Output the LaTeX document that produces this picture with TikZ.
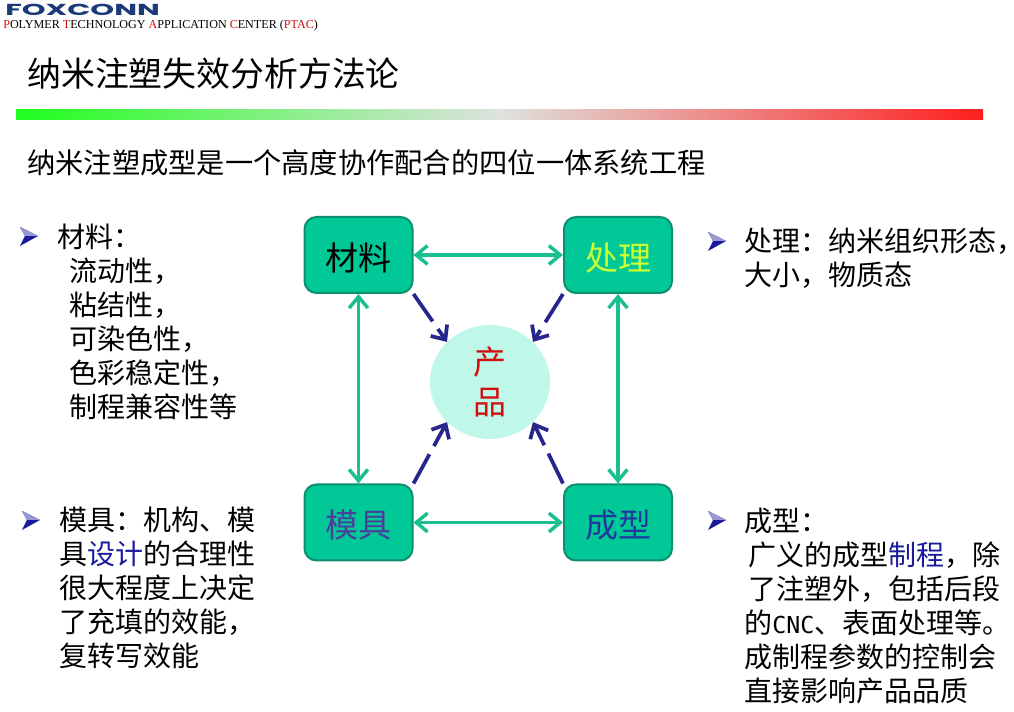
\documentclass[tikz,border=0pt]{standalone}
\usepackage{fontspec}
\usepackage{graphicx}
\usetikzlibrary{arrows.meta,shapes.geometric}
\setmainfont{Noto Sans CJK SC}
\newfontfamily\latinserif{Liberation Serif}
\newfontfamily\logofont{Poppins}
\newfontfamily\cncfont{DejaVu Sans Mono}
\definecolor{boxfill}{HTML}{00C896}
\definecolor{boxline}{HTML}{0E8F70}
\definecolor{greenarrow}{HTML}{1ABF90}
\definecolor{bluearrow}{HTML}{26268C}
\definecolor{circfill}{HTML}{BFF7E8}
\definecolor{navy}{HTML}{1A1A9C}
\definecolor{logoblue}{HTML}{1B3B78}
\definecolor{redtext}{HTML}{D01010}
\newcommand{\bodyfont}{\fontsize{21}{25.4}\selectfont}
\newcommand{\boxfont}{\fontsize{24.75}{30}\selectfont}
\newcommand{\boxlabel}[1]{\raisebox{0pt}[23.2pt][0pt]{#1}}
\tikzset{
  x=0.75pt,y=-0.75pt,
  box/.style={draw=boxline,line width=1.5pt,fill=boxfill,rounded corners=9pt,
    minimum width=81pt,minimum height=57pt,inner sep=0pt,font=\boxfont},
  both/.style={draw=greenarrow,line width=2.6pt,
    {Straight Barb[length=8.5pt,width=14pt,line width=2.6pt]}-{Straight Barb[length=8.5pt,width=14pt,line width=2.6pt]}},
  toprod/.style={draw=bluearrow,line width=2.8pt,dash pattern=on 25pt off 7pt on 100pt,
    -{Straight Barb[length=8.5pt,width=15pt,line width=2.8pt]}},
  bodytext/.style={anchor=north west,inner sep=0pt,align=left,font=\bodyfont,text=black},
  pics/bulletmark/.style={code={
    \fill[navy] (-9,-9) -- (9,0) -- (-9,10) -- (-4,0) -- cycle;
    \fill[white!55!navy] (-9,-9) -- (9,0) -- (-4,0) -- cycle;
  }},
}
\begin{document}
\begin{tikzpicture}
\useasboundingbox (0,0) rectangle (1014,712);
\fill[white] (0,0) rectangle (1014,712);
% header
\node[inner sep=0pt,anchor=north west,text=logoblue] (logo) at (5,4)
  {\resizebox{116pt}{8.5pt}{\logofont\bfseries FOXCONN}};
\node[inner sep=0pt,anchor=north west] (org) at (3,20)
  {\resizebox{236pt}{!}{\latinserif\fontsize{8}{9}\selectfont\textcolor{redtext}{P}OLYMER \textcolor{redtext}{T}ECHNOLOGY \textcolor{redtext}{A}PPLICATION \textcolor{redtext}{C}ENTER (\textcolor{redtext}{PTAC})}};
\node[inner sep=0pt,anchor=west,font=\fontsize{25.4}{30}\selectfont] (title) at (27,74) {纳米注塑失效分析方法论};
\shade[left color={rgb,255:red,30;green,255;blue,30},right color={rgb,255:red,255;green,30;blue,30},middle color={rgb,255:red,222;green,226;blue,222}] (16,110) rectangle (983,120);
\node[inner sep=0pt,anchor=west,font=\fontsize{21.2}{25}\selectfont] (sub) at (27,163) {纳米注塑成型是一个高度协作配合的四位一体系统工程};
% diagram
\node[box,text=black] (mat) at (358.5,255) {\boxlabel{材料}};
\node[box,text={rgb,255:red,204;green,255;blue,51}] (proc) at (618,255) {\boxlabel{处理}};
\node[box,text={rgb,255:red,75;green,63;blue,158}] (mold) at (358.5,522.5) {\boxlabel{模具}};
\node[box,text={rgb,255:red,31;green,58;blue,156}] (form) at (618,522.5) {\boxlabel{成型}};
\node[ellipse,fill=circfill,minimum width=90pt,minimum height=85.5pt,inner sep=0pt,align=center,text=redtext,font=\boxfont] (prod) at (490,382) {\raisebox{-1.5pt}{产}\\\raisebox{-1.5pt}{品}};
\draw[both] (mat.east) -- (proc.west);
\draw[both] (mold.east) -- (form.west);
\draw[both] (mat.south) -- (mold.north);
\draw[both] (proc.south) -- (form.north);
\draw[toprod] (mat.south east) -- (prod.137);
\draw[toprod] (proc.south west) -- (prod.43);
\draw[toprod] (mold.north east) -- (prod.223);
\draw[toprod] (form.north west) -- (prod.317);
% bullets
\pic at (29,236) {bulletmark};
\pic at (717,241) {bulletmark};
\pic at (31,520) {bulletmark};
\pic at (717,520) {bulletmark};
% text blocks
\node[bodytext] (t1) at (57,224) {材料：\\\hspace*{9.5pt}流动性，\\\hspace*{9.5pt}粘结性，\\\hspace*{9.5pt}可染色性，\\\hspace*{9.5pt}色彩稳定性，\\\hspace*{9.5pt}制程兼容性等};
\node[bodytext] (t2) at (744,228) {处理：纳米组织形态\rlap{，}\\大小，物质态};
\node[bodytext] (t3) at (59,507) {模具：机构、模\\具\textcolor{navy}{设计}的合理性\\很大程度上决定\\了充填的效能，\\复转写效能};
\node[bodytext] (t4) at (744,508) {成型：\\\hspace*{3pt}广义的成型\textcolor{navy}{制程}，除\\\hspace*{3pt}了注塑外，包括后段\\的{\cncfont\fontsize{17.5}{25.4}\selectfont CNC}、表面处理等。\\成制程参数的控制会\\直接影响产品品质};
\end{tikzpicture}
\end{document}
